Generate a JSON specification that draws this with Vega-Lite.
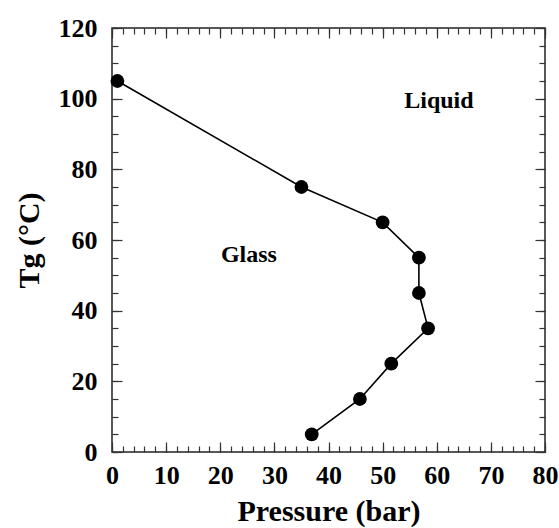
{
  "$schema": "https://vega.github.io/schema/vega-lite/v6.json",
  "width": 433,
  "height": 424,
  "autosize": "none",
  "padding": {"left": 112, "top": 28, "right": 14, "bottom": 76},
  "background": "white",
  "config": {
    "view": {"stroke": "#222", "strokeWidth": 1.5},
    "font": "Liberation Serif",
    "axis": {
      "domain": false,
      "grid": false,
      "tickColor": "#333",
      "tickWidth": 1.2,
      "labelFont": "Liberation Serif",
      "labelFontWeight": "bold",
      "labelFontSize": 26,
      "labelColor": "black",
      "titleFont": "Liberation Serif",
      "titleFontWeight": "bold",
      "titleFontSize": 30,
      "titleColor": "black"
    }
  },
  "datasets": {
    "points": [
      {"i": 1, "pressure": 1, "tg": 105},
      {"i": 2, "pressure": 35, "tg": 75},
      {"i": 3, "pressure": 50, "tg": 65},
      {"i": 4, "pressure": 56.7, "tg": 55},
      {"i": 5, "pressure": 56.7, "tg": 45},
      {"i": 6, "pressure": 58.4, "tg": 35},
      {"i": 7, "pressure": 51.6, "tg": 25},
      {"i": 8, "pressure": 45.8, "tg": 15},
      {"i": 9, "pressure": 36.9, "tg": 5}
    ],
    "labels": [
      {"pressure": 60.4, "tg": 97.4, "text": "Liquid"},
      {"pressure": 25.3, "tg": 53.9, "text": "Glass"}
    ]
  },
  "layer": [
    {
      "data": {"name": "points"},
      "mark": {"type": "line", "color": "black", "strokeWidth": 1.6},
      "encoding": {
        "x": {
          "field": "pressure", "type": "quantitative",
          "scale": {"domain": [0, 80], "nice": false, "zero": false},
          "axis": {
            "orient": "bottom",
            "title": "Pressure (bar)",
            "values": [0, 10, 20, 30, 40, 50, 60, 70, 80],
            "tickSize": -10,
            "labelPadding": 20,
            "labelFlush": false,
            "titlePadding": 8
          }
        },
        "y": {
          "field": "tg", "type": "quantitative",
          "scale": {"domain": [0, 120], "nice": false, "zero": false},
          "axis": {
            "orient": "left",
            "title": "Tg (°C)",
            "values": [0, 20, 40, 60, 80, 100, 120],
            "tickSize": -10,
            "labelPadding": 25,
            "labelFlush": false,
            "titlePadding": 14
          }
        },
        "order": {"field": "i", "type": "quantitative"}
      }
    },
    {
      "data": {"name": "points"},
      "mark": {"type": "point", "filled": true, "color": "black", "opacity": 1, "size": 190},
      "encoding": {
        "x": {
          "field": "pressure", "type": "quantitative",
          "axis": {
            "orient": "bottom",
            "title": null,
            "values": [0,2,4,6,8,10,12,14,16,18,20,22,24,26,28,30,32,34,36,38,40,42,44,46,48,50,52,54,56,58,60,62,64,66,68,70,72,74,76,78,80],
            "labels": false,
            "tickSize": -6
          }
        },
        "y": {
          "field": "tg", "type": "quantitative",
          "axis": {
            "orient": "left",
            "title": null,
            "values": [0,5,10,15,20,25,30,35,40,45,50,55,60,65,70,75,80,85,90,95,100,105,110,115,120],
            "labels": false,
            "tickSize": -6
          }
        }
      }
    },
    {
      "data": {"name": "labels"},
      "transform": [{"filter": "datum.text === 'Liquid'"}],
      "mark": {"type": "text", "font": "Liberation Serif", "fontWeight": "bold", "fontSize": 24, "color": "black", "baseline": "alphabetic", "align": "center"},
      "encoding": {
        "x": {
          "field": "pressure", "type": "quantitative",
          "axis": {"orient": "top", "title": null, "labels": false, "values": [0, 10, 20, 30, 40, 50, 60, 70, 80], "tickSize": -10}
        },
        "y": {
          "field": "tg", "type": "quantitative",
          "axis": {"orient": "right", "title": null, "labels": false, "values": [0, 20, 40, 60, 80, 100, 120], "tickSize": -10}
        },
        "text": {"field": "text"}
      }
    },
    {
      "data": {"name": "labels"},
      "transform": [{"filter": "datum.text === 'Glass'"}],
      "mark": {"type": "text", "font": "Liberation Serif", "fontWeight": "bold", "fontSize": 24, "color": "black", "baseline": "alphabetic", "align": "center"},
      "encoding": {
        "x": {
          "field": "pressure", "type": "quantitative",
          "axis": {
            "orient": "top", "title": null, "labels": false, "tickSize": -6,
            "values": [0,2,4,6,8,10,12,14,16,18,20,22,24,26,28,30,32,34,36,38,40,42,44,46,48,50,52,54,56,58,60,62,64,66,68,70,72,74,76,78,80]
          }
        },
        "y": {
          "field": "tg", "type": "quantitative",
          "axis": {
            "orient": "right", "title": null, "labels": false, "tickSize": -6,
            "values": [0,5,10,15,20,25,30,35,40,45,50,55,60,65,70,75,80,85,90,95,100,105,110,115,120]
          }
        },
        "text": {"field": "text"}
      }
    }
  ],
  "resolve": {"axis": {"x": "independent", "y": "independent"}}
}
